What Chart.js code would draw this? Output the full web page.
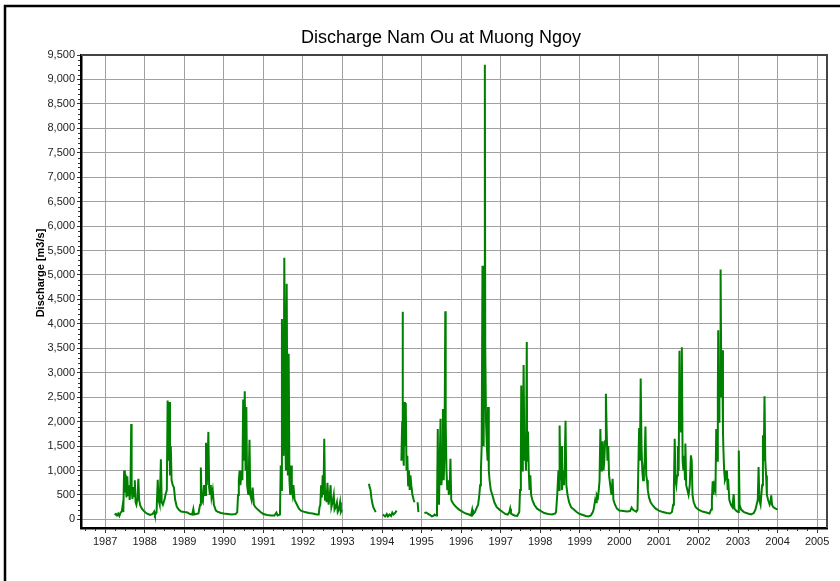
<!DOCTYPE html>
<html>
<head>
<meta charset="utf-8">
<title>Discharge Nam Ou at Muong Ngoy</title>
<script src="https://cdn.jsdelivr.net/npm/chart.js@4.4.1/dist/chart.umd.min.js"></script>
<style>
    body { margin: 0; background: #fff; }
    canvas { display: block; }
</style>
</head>
<body>
<canvas id="chart" width="840" height="581"></canvas>
<script>
// Daily discharge, thinned to the main rises and recessions (decimal years, m3/s).
// A null discharge breaks the line where the record has gaps.
const years = [
    1987.24, 1987.27, 1987.30, 1987.33, 1987.36, 1987.39, 1987.42, 1987.44, 1987.46, 1987.48,
    1987.50, 1987.52, 1987.54, 1987.56, 1987.58, 1987.60, 1987.62, 1987.64, 1987.66, 1987.67,
    1987.69, 1987.71, 1987.73, 1987.75, 1987.77, 1987.79, 1987.82, 1987.84, 1987.86, 1987.89,
    1987.93, 1987.97, 1988.02, 1988.08, 1988.14, 1988.20, 1988.24, 1988.26, 1988.30, 1988.33,
    1988.35, 1988.38, 1988.41, 1988.43, 1988.46, 1988.50, 1988.53, 1988.56, 1988.58, 1988.60,
    1988.62, 1988.64, 1988.66, 1988.68, 1988.71, 1988.74, 1988.77, 1988.81, 1988.86, 1988.92,
    1989.00, 1989.08, 1989.15, 1989.20, 1989.23, 1989.25, 1989.30, 1989.36, 1989.40, 1989.42,
    1989.44, 1989.47, 1989.50, 1989.53, 1989.55, 1989.57, 1989.59, 1989.61, 1989.63, 1989.65,
    1989.67, 1989.69, 1989.72, 1989.75, 1989.80, 1989.86, 1989.93, 1990.00, 1990.10, 1990.20,
    1990.30, 1990.34, 1990.36, 1990.38, 1990.40, 1990.42, 1990.45, 1990.47, 1990.49, 1990.51,
    1990.53, 1990.55, 1990.57, 1990.59, 1990.62, 1990.65, 1990.67, 1990.70, 1990.73, 1990.76,
    1990.80, 1990.86, 1990.93, 1991.00, 1991.10, 1991.20, 1991.28, 1991.33, 1991.36, 1991.42,
    1991.44, 1991.46, 1991.47, 1991.49, 1991.51, 1991.53, 1991.55, 1991.57, 1991.59, 1991.61,
    1991.62, 1991.64, 1991.66, 1991.68, 1991.70, 1991.72, 1991.74, 1991.76, 1991.79, 1991.82,
    1991.85, 1991.90, 1991.95, 1992.05, 1992.15, 1992.25, 1992.35, 1992.40, 1992.42, 1992.44,
    1992.46, 1992.48, 1992.50, 1992.52, 1992.54, 1992.56, 1992.58, 1992.60, 1992.62, 1992.65,
    1992.68, 1992.70, 1992.72, 1992.75, 1992.78, 1992.80, 1992.83, 1992.86, 1992.88, 1992.91,
    1992.94, 1992.96, 1992.99, 1993.30,
    1993.67, 1993.69, 1993.71, 1993.73, 1993.75, 1993.78, 1993.81, 1993.84, 1993.90,
    1994.02, 1994.05, 1994.08, 1994.12, 1994.15, 1994.19, 1994.23, 1994.26, 1994.29, 1994.33,
    1994.37, 1994.43,
    1994.49, 1994.51, 1994.52, 1994.53, 1994.55, 1994.56, 1994.58, 1994.60, 1994.62, 1994.64,
    1994.66, 1994.68, 1994.70, 1994.72, 1994.74, 1994.77, 1994.80, 1994.82, 1994.86,
    1994.90, 1994.92, 1995.00,
    1995.07, 1995.12, 1995.17, 1995.22, 1995.26, 1995.30, 1995.33, 1995.37, 1995.39, 1995.41,
    1995.42, 1995.44, 1995.46, 1995.48, 1995.50, 1995.52, 1995.54, 1995.56, 1995.58, 1995.60,
    1995.61, 1995.63, 1995.65, 1995.67, 1995.69, 1995.71, 1995.73, 1995.75, 1995.78, 1995.82,
    1995.88, 1995.95, 1996.05, 1996.12, 1996.20, 1996.25, 1996.28, 1996.30, 1996.35, 1996.40,
    1996.43, 1996.46, 1996.48, 1996.50, 1996.52, 1996.54, 1996.55, 1996.57, 1996.58, 1996.60,
    1996.61, 1996.63, 1996.65, 1996.67, 1996.68, 1996.70, 1996.72, 1996.75, 1996.79, 1996.84,
    1996.90, 1996.97, 1997.05, 1997.12, 1997.18, 1997.22, 1997.24, 1997.26, 1997.30, 1997.35,
    1997.42, 1997.47, 1997.49, 1997.51, 1997.52, 1997.54, 1997.56, 1997.58, 1997.60, 1997.62,
    1997.64, 1997.66, 1997.67, 1997.69, 1997.71, 1997.73, 1997.75, 1997.77, 1997.80, 1997.85,
    1997.92, 1998.00, 1998.10, 1998.20, 1998.30, 1998.38, 1998.40, 1998.43, 1998.46, 1998.48,
    1998.49, 1998.51, 1998.53, 1998.55, 1998.58, 1998.60, 1998.62, 1998.64, 1998.66, 1998.69,
    1998.73, 1998.78, 1998.85, 1998.92, 1999.00, 1999.08, 1999.15, 1999.22, 1999.28, 1999.33,
    1999.35, 1999.37, 1999.39, 1999.41, 1999.43, 1999.46, 1999.48, 1999.50, 1999.52, 1999.54,
    1999.56, 1999.58, 1999.60, 1999.62, 1999.64, 1999.66, 1999.68, 1999.70, 1999.72, 1999.74,
    1999.77, 1999.80, 1999.83, 1999.85, 1999.89, 1999.94, 2000.00, 2000.10, 2000.20, 2000.27,
    2000.31, 2000.34, 2000.38, 2000.43, 2000.46, 2000.48, 2000.50, 2000.52, 2000.54, 2000.56,
    2000.58, 2000.60, 2000.62, 2000.64, 2000.66, 2000.68, 2000.70, 2000.72, 2000.75, 2000.79,
    2000.85, 2000.92, 2001.00, 2001.10, 2001.20, 2001.28, 2001.33, 2001.36, 2001.38, 2001.40,
    2001.42, 2001.44, 2001.46, 2001.48, 2001.50, 2001.52, 2001.54, 2001.56, 2001.58, 2001.60,
    2001.62, 2001.64, 2001.66, 2001.67, 2001.69, 2001.72, 2001.75, 2001.78, 2001.81, 2001.83,
    2001.85, 2001.88, 2001.93, 2002.00, 2002.10, 2002.20, 2002.28, 2002.32, 2002.34, 2002.36,
    2002.38, 2002.40, 2002.43, 2002.45, 2002.47, 2002.49, 2002.50, 2002.52, 2002.53, 2002.55,
    2002.56, 2002.58, 2002.60, 2002.62, 2002.63, 2002.65, 2002.67, 2002.70, 2002.72, 2002.74,
    2002.75, 2002.78, 2002.82, 2002.86, 2002.89, 2002.91, 2002.95, 2003.00, 2003.02, 2003.04,
    2003.08, 2003.15, 2003.25, 2003.33, 2003.40, 2003.44, 2003.47, 2003.50, 2003.52, 2003.54,
    2003.57, 2003.59, 2003.61, 2003.63, 2003.65, 2003.67, 2003.69, 2003.71, 2003.73, 2003.76,
    2003.80, 2003.82, 2003.84, 2003.86, 2003.89, 2003.95, 2004.00
];

const discharge = [
    90, 110, 80, 120, 70, 140, 160, 270, 150, 1000,
    550, 920, 450, 880, 500, 700, 400, 650, 1950, 700,
    420, 660, 480, 800, 350, 300, 450, 830, 400, 280,
    220, 180, 140, 110, 90, 110, 160, 90, 140, 810,
    400, 300, 1230, 350, 300, 400, 520, 600, 2430, 1200,
    2400, 900, 1500, 800, 700, 650, 400, 260, 200, 160,
    150, 140, 110, 100, 210, 100, 110, 120, 300, 1060,
    400, 350, 700, 500, 1570, 700, 1100, 1790, 650, 500,
    700, 450, 600, 300, 180, 150, 130, 120, 110, 100,
    110, 150, 500, 800, 1000, 700, 1000, 800, 2450, 1200,
    2620, 1000, 2300, 700, 500, 1630, 500, 400, 650, 300,
    250, 200, 150, 110, 90, 80, 80, 140, 80, 100,
    1100, 600, 4100, 1500, 1300, 5350, 2000, 1000, 4820, 1500,
    900, 3390, 800, 500, 1100, 600, 500, 700, 400, 350,
    300, 220, 180, 150, 130, 120, 100, 100, 250, 300,
    700, 450, 900, 500, 1650, 400, 600, 350, 750, 300,
    500, 700, 250, 350, 500, 200, 250, 350, 150, 200,
    350, 150, 200, null,
    730, 650, 600, 450, 350, 250, 200, 150, null,
    100, 80, 60, 110, 60, 100, 70, 140, 100, 130,
    180, null,
    1200, 2000, 4250, 1500, 1100, 2400, 1500, 2380, 1000, 1300,
    700, 1000, 600, 900, 700, 500, 400, 350, null,
    350, 150, null,
    130, 140, 110, 90, 60, 70, 100, 80, 200, 1850,
    600, 300, 1200, 2060, 700, 900, 2260, 800, 1400, 4260,
    2000, 1000, 600, 800, 500, 600, 1240, 400, 350, 300,
    250, 200, 150, 120, 100, 80, 200, 100, 150, 250,
    300, 500, 700, 1000, 1500, 5190, 2000, 1500, 3000, 9300,
    3500, 2000, 1500, 1200, 2300, 1000, 800, 600, 500, 350,
    250, 200, 150, 110, 100, 150, 220, 120, 100, 80,
    70, 150, 600, 1200, 2740, 1000, 1500, 3160, 1200, 1600,
    1000, 3630, 1200, 1800, 1000, 600, 900, 500, 400, 300,
    220, 180, 130, 110, 100, 120, 150, 500, 1000, 600,
    1920, 800, 1500, 600, 1000, 700, 1200, 2020, 700, 500,
    350, 250, 200, 150, 110, 90, 70, 60, 80, 150,
    200, 300, 400, 350, 500, 450, 600, 800, 1850, 1000,
    1300, 1600, 1000, 1200, 1600, 2570, 1800, 1200, 1500, 900,
    700, 500, 830, 400, 300, 220, 180, 170, 160, 170,
    240, 200, 180, 160, 200, 1040, 1870, 1200, 2880, 1500,
    1000, 800, 1000, 1200, 1900, 900, 800, 600, 450, 350,
    280, 220, 180, 150, 130, 120, 150, 300, 700, 1650,
    800, 700, 900, 1500, 1000, 3450, 2200, 1800, 3520, 1200,
    1000, 1300, 800, 1550, 700, 600, 500, 700, 1310, 1200,
    500, 350, 250, 200, 160, 140, 120, 200, 400, 780,
    500, 700, 600, 1850, 1200, 2500, 3870, 2000, 2810, 3000,
    5110, 2500, 3460, 1800, 1450, 1000, 800, 870, 1000, 600,
    830, 400, 300, 250, 520, 220, 180, 150, 1410, 300,
    200, 150, 120, 100, 130, 200, 300, 400, 1070, 400,
    300, 500, 700, 1720, 1200, 2520, 1200, 900, 500, 400,
    300, 350, 490, 300, 250, 220, 200
];

// Axis ticks
const yearTicks = [ 1987, 1988, 1989, 1990, 1991, 1992, 1993, 1994, 1995,
    1996, 1997, 1998, 1999, 2000, 2001, 2002, 2003, 2004, 2005 ];
const flowTicks = [ 0, 500, 1000, 1500, 2000, 2500, 3000, 3500, 4000, 4500,
    5000, 5500, 6000, 6500, 7000, 7500, 8000, 8500, 9000, 9500 ];

const chartTitle = 'Discharge Nam Ou at Muong Ngoy';
const yAxisTitle = 'Discharge [m3/s]';

const FONT = '"Liberation Sans", Arial, sans-serif';
const GRID = '#a0a0a0';

const points = years.map( ( t, i ) => ( { x: t, y: discharge[ i ] } ) );

// Title, axis title, frame lines and minor ticks
const decorations = {
    id: 'decorations',
    afterDraw ( chart )
    {
        const ctx = chart.ctx;
        const area = chart.chartArea;
        const xs = chart.scales.x;
        const ys = chart.scales.y;

        ctx.save();

        // outer frame (top and left edges)
        ctx.strokeStyle = '#000';
        ctx.lineWidth = 2.5;
        ctx.beginPath();
        ctx.moveTo( 5, 581 );
        ctx.lineTo( 5, 6 );
        ctx.lineTo( 840, 6 );
        ctx.stroke();

        // top and right plot borders
        ctx.strokeStyle = '#444';
        ctx.lineWidth = 2;
        ctx.beginPath();
        ctx.moveTo( area.left, area.top );
        ctx.lineTo( area.right, area.top );
        ctx.lineTo( area.right, area.bottom );
        ctx.stroke();

        // minor ticks
        ctx.strokeStyle = '#333';
        ctx.lineWidth = 1;
        ctx.beginPath();
        for ( let v = 100; v < 9500; v += 100 )
        {
            if ( v % 500 === 0 ) continue;
            const py = Math.round( ys.getPixelForValue( v ) ) + 0.5;
            ctx.moveTo( area.left - 3, py );
            ctx.lineTo( area.left - 1, py );
        }
        for ( let q = Math.ceil( xs.min * 4 ) / 4; q < xs.max; q += 0.25 )
        {
            if ( Math.abs( q - Math.round( q ) ) < 1e-6 ) continue;
            const px = Math.round( xs.getPixelForValue( q ) ) + 0.5;
            ctx.moveTo( px, area.bottom + 1 );
            ctx.lineTo( px, area.bottom + 3 );
        }
        ctx.stroke();

        // chart title
        ctx.fillStyle = '#000';
        ctx.font = '18px ' + FONT;
        ctx.textAlign = 'center';
        ctx.textBaseline = 'middle';
        ctx.fillText( chartTitle, 441, 38 );

        // y axis title
        ctx.translate( 41, 273 );
        ctx.rotate( -Math.PI / 2 );
        ctx.font = 'bold 11px ' + FONT;
        ctx.fillText( yAxisTitle, 0, 0 );

        ctx.restore();
    }
};

new Chart( document.getElementById( 'chart' ), {
    type: 'line',
    data: {
        datasets: [ {
            label: 'Discharge',
            data: points,
            borderColor: '#008000',
            borderWidth: 2,
            pointRadius: 0,
            tension: 0,
            spanGaps: false
        } ]
    },
    options: {
        responsive: false,
        animation: false,
        devicePixelRatio: 1,
        layout: {
            padding: { left: 6, top: 55, right: 13, bottom: 23 }
        },
        plugins: {
            legend: { display: false },
            title: { display: false },
            tooltip: { enabled: false }
        },
        scales: {
            x: {
                type: 'linear',
                min: 1986.39,
                max: 2005.25,
                afterBuildTicks: ( s ) => { s.ticks = yearTicks.map( v => ( { value: v } ) ); },
                afterFit: ( s ) => { s.height = 30; },
                ticks: {
                    autoSkip: false,
                    maxRotation: 0,
                    padding: 2,
                    color: '#222',
                    font: { family: FONT, size: 11 },
                    callback: ( v ) => String( v )
                },
                grid: {
                    color: GRID,
                    lineWidth: 1,
                    tickColor: '#333',
                    tickLength: 5
                },
                border: { display: true, color: '#000', width: 2.5 }
            },
            y: {
                type: 'linear',
                min: -176,
                max: 9500,
                afterBuildTicks: ( s ) => { s.ticks = flowTicks.map( v => ( { value: v } ) ); },
                afterFit: ( s ) => { s.width = 75; },
                ticks: {
                    padding: 2,
                    color: '#222',
                    font: { family: FONT, size: 11 },
                    callback: ( v ) => v.toLocaleString( 'en-US' )
                },
                grid: {
                    color: GRID,
                    lineWidth: 1,
                    tickColor: '#333',
                    tickLength: 4
                },
                border: { display: true, color: '#000', width: 2.5 }
            }
        }
    },
    plugins: [ decorations ]
} );
</script>
</body>
</html>
